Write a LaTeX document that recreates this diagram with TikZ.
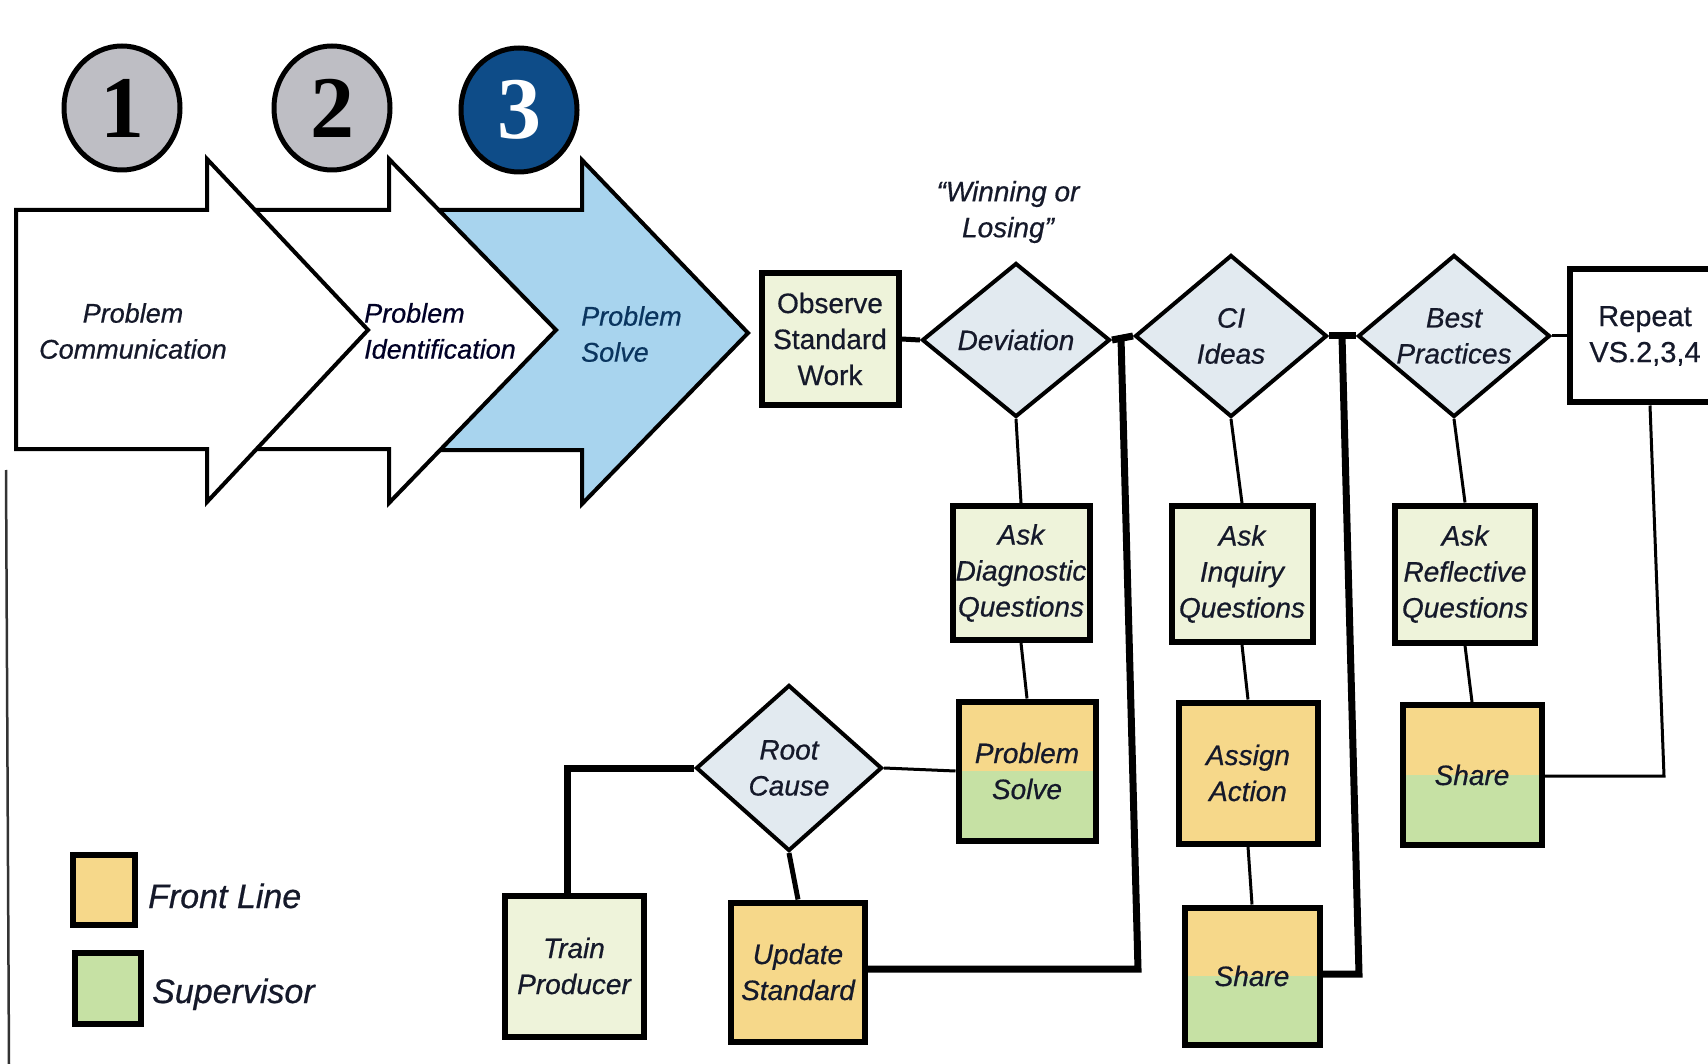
\documentclass[tikz,border=0pt]{standalone}
\usepackage{fontspec}
\setmainfont{Liberation Sans}[FakeBold=0.6]
\newfontfamily\numfont{Liberation Serif}
\usetikzlibrary{shapes.geometric}
\definecolor{pale}{HTML}{EEF3DA}
\definecolor{orng}{HTML}{F6D88A}
\definecolor{grn}{HTML}{C6E1A4}
\definecolor{dia}{HTML}{E2EAF0}
\definecolor{arrblue}{HTML}{A8D4EE}
\definecolor{circgrey}{HTML}{BEBEC4}
\definecolor{circblue}{HTML}{0E4C88}
\definecolor{ink}{HTML}{15192A}
\begin{document}
\begin{tikzpicture}[x=1pt,y=-1pt,
  it/.style={font=\fontsize{28}{36}\selectfont\itshape, text=ink, align=center},
  up/.style={font=\fontsize{28}{36}\selectfont, text=ink, align=center},
  box/.style={draw=black, line width=6pt, rectangle, inner sep=0pt},
  split/.style={box, fill=orng, path picture={\fill[grn] (path picture bounding box.west) rectangle (path picture bounding box.south east);}},
  dmd/.style={diamond, draw=black, line width=4pt, fill=dia, aspect=1.2, inner sep=0pt},
  num/.style={ellipse, draw=black, line width=5pt, minimum width=116, minimum height=124, inner sep=0pt, font=\fontsize{88}{88}\selectfont\numfont\bfseries},
  arr/.style={draw=black, line width=4pt, line join=miter},
  thin/.style={draw=black, line width=3pt},
  mid/.style={draw=black, line width=5pt},
  heavy/.style={draw=black, line width=7pt, line join=miter}]
\useasboundingbox[fill=white] (0,0) rectangle (1708,1064);
\begin{scope}
\clip (0,0) rectangle (1708,1064);
% page edge
\draw[line width=2.5pt, black!80] (6,470) -- (9,1064);
% numbered circles
\node[num, fill=circgrey, text=black] (n1) at (122,108) {1};
\node[num, fill=circgrey, text=black] (n2) at (332,108) {2};
\node[num, fill=circblue, text=white] (n3) at (519,110) {3};
% block arrows
\draw[arr, fill=arrblue] (420,210) -- (582,210) -- (582,160) -- (748,333) -- (582,504) -- (582,450) -- (420,450) -- cycle;
\draw[arr, fill=white] (230,210) -- (389,210) -- (389,159) -- (556,330) -- (389,503) -- (389,449) -- (230,449) -- cycle;
\draw[arr, fill=white] (16,210) -- (207,210) -- (207,159) -- (368,330) -- (207,502) -- (207,449) -- (16,449) -- cycle;
\node[it, font=\fontsize{27}{36}\selectfont\itshape] (t1) at (133,331) {Problem\\Communication};
\node[it, font=\fontsize{27}{36}\selectfont\itshape, text=black!75!blue!60!black, align=left, anchor=west, inner sep=0pt] (t2) at (364,331) {Problem\\Identification};
\node[it, font=\fontsize{27}{36}\selectfont\itshape, text=circblue!70!black, align=left, anchor=west, inner sep=0pt] (t3) at (581,334) {Problem\\Solve};
% top row
\node[it] (win) at (1008,212) {“Winning or\\Losing”};
\node[box, fill=pale, up, minimum width=137, minimum height=132] (observe) at (830,339) {Observe\\Standard\\Work};
\node[dmd, it, minimum width=188, minimum height=154] (deviation) at (1016,340) {Deviation};
\node[dmd, it, minimum width=192, minimum height=162] (ci) at (1231,336) {CI\\Ideas};
\node[dmd, it, minimum width=192, minimum height=162] (best) at (1454,336) {Best\\Practices};
\node[box, fill=white, up, font=\fontsize{29}{36}\selectfont, minimum width=150, minimum height=133] (repeat) at (1645,336) {Repeat\\VS.2,3,4};
% question boxes
\node[box, fill=pale, it, minimum width=137, minimum height=134] (askd) at (1021,573) {Ask\\Diagnostic\\Questions};
\node[box, fill=pale, it, minimum width=141, minimum height=136] (aski) at (1242,574) {Ask\\Inquiry\\Questions};
\node[box, fill=pale, it, minimum width=140, minimum height=137] (askr) at (1465,574) {Ask\\Reflective\\Questions};
% third row
\node[split, it, minimum width=137, minimum height=139] (psolve) at (1027,771) {Problem\\Solve};
\node[box, fill=orng, it, minimum width=139, minimum height=141] (assign) at (1248,773) {Assign\\Action};
\node[split, it, minimum width=139, minimum height=140] (share1) at (1472,775) {Share};
\node[dmd, it, minimum width=186, minimum height=166] (root) at (789,768) {Root\\Cause};
% bottom row
\node[box, fill=pale, it, minimum width=139, minimum height=141] (train) at (574,966) {Train\\Producer};
\node[box, fill=orng, it, minimum width=134, minimum height=139] (update) at (798,972) {Update\\Standard};
\node[split, it, minimum width=135, minimum height=137] (share2) at (1252,976) {Share};
% legend
\node[box, fill=orng, minimum width=62, minimum height=70] (lfront) at (104,890) {};
\node[box, fill=grn, minimum width=66, minimum height=71] (lsup) at (108,988) {};
\node[it, font=\fontsize{34}{40}\selectfont\itshape, anchor=base west, inner sep=0pt] (lfronttext) at (148,908) {Front Line};
\node[it, font=\fontsize{34}{40}\selectfont\itshape, anchor=base west, inner sep=0pt] (lsuptext) at (152,1003) {Supervisor};
% junction coordinates
\coordinate (j1) at (1121,338);
\coordinate (c1) at (1138,969);
\coordinate (j2) at (1342,336);
\coordinate (c2) at (1359,974);
\coordinate (c3) at (1664,776);
\coordinate (c4) at (567,768);
% connectors
\draw[mid] (observe.east) -- (deviation.west);
\draw[heavy] (deviation.east) -- (ci.west);
\draw[heavy] (j1) -- (c1) -- (c1 -| update.east);
\draw[heavy] (ci.east) -- (best.west);
\draw[heavy] (j2) -- (c2) -- (c2 -| share2.east);
\draw[thin] (best.east) -- (repeat.west);
\draw[thin] ([xshift=5pt]repeat.south) -- (c3) -- (c3 -| share1.east);
\draw[thin] (deviation.south) -- (askd.north);
\draw[thin] (askd.south) -- (psolve.north);
\draw[thin] (psolve.west) -- (root.east);
\draw[heavy] (root.west) -- (c4) -- (c4 |- train.north);
\draw[mid] (root.south) -- (update.north);
\draw[thin] (ci.south) -- (aski.north);
\draw[thin] (aski.south) -- (assign.north);
\draw[thin] (assign.south) -- (share2.north);
\draw[thin] (best.south) -- (askr.north);
\draw[thin] (askr.south) -- (share1.north);
\end{scope}
\end{tikzpicture}
\end{document}
